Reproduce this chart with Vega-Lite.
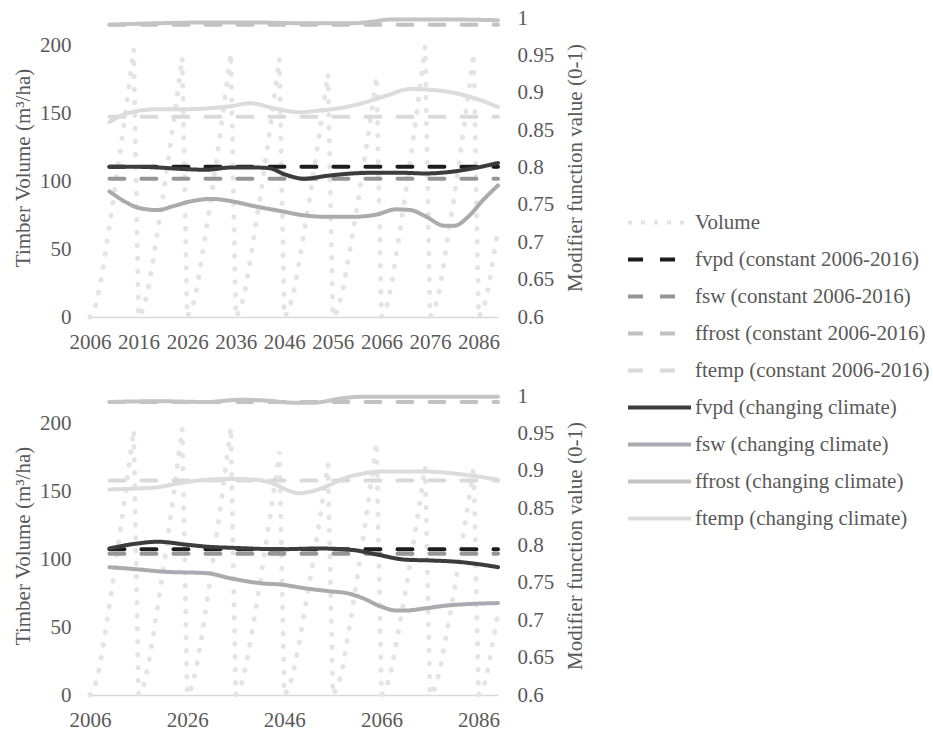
{
  "$schema": "https://vega.github.io/schema/vega-lite/v6.json",
  "background": "white",
  "padding": {"left": 12, "top": 7, "right": 5, "bottom": 5},
  "spacing": 33,
  "datasets": {
    "vol_top": [
      {"year":2006,"vol":0,"series":"Volume"},{"year":2007,"vol":6,"series":"Volume"},{"year":2008,"vol":22,"series":"Volume"},{"year":2009,"vol":43,"series":"Volume"},{"year":2010,"vol":67,"series":"Volume"},{"year":2011,"vol":91,"series":"Volume"},{"year":2012,"vol":116,"series":"Volume"},{"year":2013,"vol":142,"series":"Volume"},{"year":2014,"vol":169,"series":"Volume"},{"year":2015,"vol":197,"series":"Volume"},
      {"year":2016,"vol":0,"series":"Volume"},{"year":2017,"vol":6,"series":"Volume"},{"year":2018,"vol":21,"series":"Volume"},{"year":2019,"vol":42,"series":"Volume"},{"year":2020,"vol":65,"series":"Volume"},{"year":2021,"vol":88,"series":"Volume"},{"year":2022,"vol":113,"series":"Volume"},{"year":2023,"vol":138,"series":"Volume"},{"year":2024,"vol":164,"series":"Volume"},{"year":2025,"vol":191,"series":"Volume"},
      {"year":2026,"vol":0,"series":"Volume"},{"year":2027,"vol":6,"series":"Volume"},{"year":2028,"vol":21,"series":"Volume"},{"year":2029,"vol":43,"series":"Volume"},{"year":2030,"vol":66,"series":"Volume"},{"year":2031,"vol":89,"series":"Volume"},{"year":2032,"vol":114,"series":"Volume"},{"year":2033,"vol":140,"series":"Volume"},{"year":2034,"vol":167,"series":"Volume"},{"year":2035,"vol":194,"series":"Volume"},
      {"year":2036,"vol":0,"series":"Volume"},{"year":2037,"vol":6,"series":"Volume"},{"year":2038,"vol":21,"series":"Volume"},{"year":2039,"vol":42,"series":"Volume"},{"year":2040,"vol":65,"series":"Volume"},{"year":2041,"vol":87,"series":"Volume"},{"year":2042,"vol":112,"series":"Volume"},{"year":2043,"vol":137,"series":"Volume"},{"year":2044,"vol":163,"series":"Volume"},{"year":2045,"vol":190,"series":"Volume"},
      {"year":2046,"vol":0,"series":"Volume"},{"year":2047,"vol":5,"series":"Volume"},{"year":2048,"vol":20,"series":"Volume"},{"year":2049,"vol":39,"series":"Volume"},{"year":2050,"vol":61,"series":"Volume"},{"year":2051,"vol":82,"series":"Volume"},{"year":2052,"vol":106,"series":"Volume"},{"year":2053,"vol":129,"series":"Volume"},{"year":2054,"vol":154,"series":"Volume"},{"year":2055,"vol":179,"series":"Volume"},
      {"year":2056,"vol":0,"series":"Volume"},{"year":2057,"vol":5,"series":"Volume"},{"year":2058,"vol":19,"series":"Volume"},{"year":2059,"vol":39,"series":"Volume"},{"year":2060,"vol":60,"series":"Volume"},{"year":2061,"vol":81,"series":"Volume"},{"year":2062,"vol":104,"series":"Volume"},{"year":2063,"vol":127,"series":"Volume"},{"year":2064,"vol":152,"series":"Volume"},{"year":2065,"vol":177,"series":"Volume"},
      {"year":2066,"vol":0,"series":"Volume"},{"year":2067,"vol":6,"series":"Volume"},{"year":2068,"vol":22,"series":"Volume"},{"year":2069,"vol":44,"series":"Volume"},{"year":2070,"vol":68,"series":"Volume"},{"year":2071,"vol":92,"series":"Volume"},{"year":2072,"vol":117,"series":"Volume"},{"year":2073,"vol":143,"series":"Volume"},{"year":2074,"vol":171,"series":"Volume"},{"year":2075,"vol":199,"series":"Volume"},
      {"year":2076,"vol":0,"series":"Volume"},{"year":2077,"vol":6,"series":"Volume"},{"year":2078,"vol":21,"series":"Volume"},{"year":2079,"vol":43,"series":"Volume"},{"year":2080,"vol":66,"series":"Volume"},{"year":2081,"vol":89,"series":"Volume"},{"year":2082,"vol":114,"series":"Volume"},{"year":2083,"vol":140,"series":"Volume"},{"year":2084,"vol":167,"series":"Volume"},{"year":2085,"vol":194,"series":"Volume"},
      {"year":2086,"vol":0,"series":"Volume"},{"year":2087,"vol":6,"series":"Volume"},{"year":2088,"vol":21,"series":"Volume"},{"year":2089,"vol":42,"series":"Volume"},{"year":2090,"vol":65,"series":"Volume"}
    ],
    "vol_bottom": [
      {"year":2006,"vol":0,"series":"Volume"},{"year":2007,"vol":6,"series":"Volume"},{"year":2008,"vol":21,"series":"Volume"},{"year":2009,"vol":43,"series":"Volume"},{"year":2010,"vol":66,"series":"Volume"},{"year":2011,"vol":90,"series":"Volume"},{"year":2012,"vol":115,"series":"Volume"},{"year":2013,"vol":140,"series":"Volume"},{"year":2014,"vol":168,"series":"Volume"},{"year":2015,"vol":195,"series":"Volume"},
      {"year":2016,"vol":0,"series":"Volume"},{"year":2017,"vol":6,"series":"Volume"},{"year":2018,"vol":22,"series":"Volume"},{"year":2019,"vol":43,"series":"Volume"},{"year":2020,"vol":67,"series":"Volume"},{"year":2021,"vol":90,"series":"Volume"},{"year":2022,"vol":116,"series":"Volume"},{"year":2023,"vol":141,"series":"Volume"},{"year":2024,"vol":169,"series":"Volume"},{"year":2025,"vol":196,"series":"Volume"},
      {"year":2026,"vol":0,"series":"Volume"},{"year":2027,"vol":6,"series":"Volume"},{"year":2028,"vol":22,"series":"Volume"},{"year":2029,"vol":43,"series":"Volume"},{"year":2030,"vol":67,"series":"Volume"},{"year":2031,"vol":91,"series":"Volume"},{"year":2032,"vol":116,"series":"Volume"},{"year":2033,"vol":142,"series":"Volume"},{"year":2034,"vol":169,"series":"Volume"},{"year":2035,"vol":197,"series":"Volume"},
      {"year":2036,"vol":0,"series":"Volume"},{"year":2037,"vol":5,"series":"Volume"},{"year":2038,"vol":20,"series":"Volume"},{"year":2039,"vol":39,"series":"Volume"},{"year":2040,"vol":61,"series":"Volume"},{"year":2041,"vol":82,"series":"Volume"},{"year":2042,"vol":106,"series":"Volume"},{"year":2043,"vol":129,"series":"Volume"},{"year":2044,"vol":154,"series":"Volume"},{"year":2045,"vol":179,"series":"Volume"},
      {"year":2046,"vol":0,"series":"Volume"},{"year":2047,"vol":5,"series":"Volume"},{"year":2048,"vol":19,"series":"Volume"},{"year":2049,"vol":37,"series":"Volume"},{"year":2050,"vol":58,"series":"Volume"},{"year":2051,"vol":78,"series":"Volume"},{"year":2052,"vol":100,"series":"Volume"},{"year":2053,"vol":122,"series":"Volume"},{"year":2054,"vol":146,"series":"Volume"},{"year":2055,"vol":170,"series":"Volume"},
      {"year":2056,"vol":0,"series":"Volume"},{"year":2057,"vol":6,"series":"Volume"},{"year":2058,"vol":20,"series":"Volume"},{"year":2059,"vol":41,"series":"Volume"},{"year":2060,"vol":63,"series":"Volume"},{"year":2061,"vol":86,"series":"Volume"},{"year":2062,"vol":110,"series":"Volume"},{"year":2063,"vol":134,"series":"Volume"},{"year":2064,"vol":160,"series":"Volume"},{"year":2065,"vol":186,"series":"Volume"},
      {"year":2066,"vol":0,"series":"Volume"},{"year":2067,"vol":5,"series":"Volume"},{"year":2068,"vol":18,"series":"Volume"},{"year":2069,"vol":37,"series":"Volume"},{"year":2070,"vol":57,"series":"Volume"},{"year":2071,"vol":77,"series":"Volume"},{"year":2072,"vol":99,"series":"Volume"},{"year":2073,"vol":121,"series":"Volume"},{"year":2074,"vol":144,"series":"Volume"},{"year":2075,"vol":168,"series":"Volume"},
      {"year":2076,"vol":0,"series":"Volume"},{"year":2077,"vol":5,"series":"Volume"},{"year":2078,"vol":18,"series":"Volume"},{"year":2079,"vol":37,"series":"Volume"},{"year":2080,"vol":57,"series":"Volume"},{"year":2081,"vol":77,"series":"Volume"},{"year":2082,"vol":99,"series":"Volume"},{"year":2083,"vol":121,"series":"Volume"},{"year":2084,"vol":144,"series":"Volume"},{"year":2085,"vol":168,"series":"Volume"},
      {"year":2086,"vol":0,"series":"Volume"},{"year":2087,"vol":5,"series":"Volume"},{"year":2088,"vol":20,"series":"Volume"},{"year":2089,"vol":40,"series":"Volume"},{"year":2090,"vol":60,"series":"Volume"}
    ],
    "mod_top": [
      {"series":"fvpd (constant 2006-2016)","year":2010,"value":0.801},{"series":"fvpd (constant 2006-2016)","year":2090,"value":0.801},
      {"series":"fsw (constant 2006-2016)","year":2010,"value":0.785},{"series":"fsw (constant 2006-2016)","year":2090,"value":0.785},
      {"series":"ffrost (constant 2006-2016)","year":2010,"value":0.991},{"series":"ffrost (constant 2006-2016)","year":2090,"value":0.991},
      {"series":"ftemp (constant 2006-2016)","year":2010,"value":0.868},{"series":"ftemp (constant 2006-2016)","year":2090,"value":0.868},
      {"series":"fvpd (changing climate)","year":2010,"value":0.801},{"series":"fvpd (changing climate)","year":2015,"value":0.801},{"series":"fvpd (changing climate)","year":2020,"value":0.8},{"series":"fvpd (changing climate)","year":2025,"value":0.798},{"series":"fvpd (changing climate)","year":2030,"value":0.797},{"series":"fvpd (changing climate)","year":2035,"value":0.8},{"series":"fvpd (changing climate)","year":2040,"value":0.8},{"series":"fvpd (changing climate)","year":2043,"value":0.799},{"series":"fvpd (changing climate)","year":2046,"value":0.791},{"series":"fvpd (changing climate)","year":2050,"value":0.785},{"series":"fvpd (changing climate)","year":2055,"value":0.789},{"series":"fvpd (changing climate)","year":2060,"value":0.792},{"series":"fvpd (changing climate)","year":2065,"value":0.793},{"series":"fvpd (changing climate)","year":2070,"value":0.793},{"series":"fvpd (changing climate)","year":2075,"value":0.792},{"series":"fvpd (changing climate)","year":2080,"value":0.794},{"series":"fvpd (changing climate)","year":2085,"value":0.799},{"series":"fvpd (changing climate)","year":2090,"value":0.806},
      {"series":"fsw (changing climate)","year":2010,"value":0.768},{"series":"fsw (changing climate)","year":2013,"value":0.755},{"series":"fsw (changing climate)","year":2016,"value":0.746},{"series":"fsw (changing climate)","year":2020,"value":0.743},{"series":"fsw (changing climate)","year":2023,"value":0.748},{"series":"fsw (changing climate)","year":2027,"value":0.755},{"series":"fsw (changing climate)","year":2031,"value":0.758},{"series":"fsw (changing climate)","year":2035,"value":0.755},{"series":"fsw (changing climate)","year":2040,"value":0.748},{"series":"fsw (changing climate)","year":2045,"value":0.742},{"series":"fsw (changing climate)","year":2050,"value":0.736},{"series":"fsw (changing climate)","year":2055,"value":0.734},{"series":"fsw (changing climate)","year":2060,"value":0.734},{"series":"fsw (changing climate)","year":2065,"value":0.737},{"series":"fsw (changing climate)","year":2069,"value":0.744},{"series":"fsw (changing climate)","year":2072,"value":0.743},{"series":"fsw (changing climate)","year":2075,"value":0.735},{"series":"fsw (changing climate)","year":2079,"value":0.722},{"series":"fsw (changing climate)","year":2081,"value":0.722},{"series":"fsw (changing climate)","year":2084,"value":0.735},{"series":"fsw (changing climate)","year":2087,"value":0.757},{"series":"fsw (changing climate)","year":2090,"value":0.776},
      {"series":"ffrost (changing climate)","year":2010,"value":0.991},{"series":"ffrost (changing climate)","year":2020,"value":0.993},{"series":"ffrost (changing climate)","year":2030,"value":0.994},{"series":"ffrost (changing climate)","year":2040,"value":0.994},{"series":"ffrost (changing climate)","year":2050,"value":0.993},{"series":"ffrost (changing climate)","year":2060,"value":0.993},{"series":"ffrost (changing climate)","year":2064,"value":0.995},{"series":"ffrost (changing climate)","year":2068,"value":0.998},{"series":"ffrost (changing climate)","year":2080,"value":0.998},{"series":"ffrost (changing climate)","year":2090,"value":0.997},
      {"series":"ftemp (changing climate)","year":2010,"value":0.861},{"series":"ftemp (changing climate)","year":2014,"value":0.873},{"series":"ftemp (changing climate)","year":2020,"value":0.878},{"series":"ftemp (changing climate)","year":2025,"value":0.878},{"series":"ftemp (changing climate)","year":2030,"value":0.879},{"series":"ftemp (changing climate)","year":2035,"value":0.882},{"series":"ftemp (changing climate)","year":2039,"value":0.886},{"series":"ftemp (changing climate)","year":2044,"value":0.879},{"series":"ftemp (changing climate)","year":2049,"value":0.874},{"series":"ftemp (changing climate)","year":2053,"value":0.876},{"series":"ftemp (changing climate)","year":2058,"value":0.88},{"series":"ftemp (changing climate)","year":2062,"value":0.886},{"series":"ftemp (changing climate)","year":2067,"value":0.896},{"series":"ftemp (changing climate)","year":2072,"value":0.905},{"series":"ftemp (changing climate)","year":2076,"value":0.904},{"series":"ftemp (changing climate)","year":2080,"value":0.901},{"series":"ftemp (changing climate)","year":2085,"value":0.893},{"series":"ftemp (changing climate)","year":2090,"value":0.881}
    ],
    "mod_bottom": [
      {"series":"fvpd (constant 2006-2016)","year":2010,"value":0.795},{"series":"fvpd (constant 2006-2016)","year":2090,"value":0.795},
      {"series":"fsw (constant 2006-2016)","year":2010,"value":0.789},{"series":"fsw (constant 2006-2016)","year":2090,"value":0.789},
      {"series":"ffrost (constant 2006-2016)","year":2010,"value":0.992},{"series":"ffrost (constant 2006-2016)","year":2090,"value":0.992},
      {"series":"ftemp (constant 2006-2016)","year":2010,"value":0.887},{"series":"ftemp (constant 2006-2016)","year":2090,"value":0.887},
      {"series":"fvpd (changing climate)","year":2010,"value":0.796},{"series":"fvpd (changing climate)","year":2015,"value":0.802},{"series":"fvpd (changing climate)","year":2020,"value":0.805},{"series":"fvpd (changing climate)","year":2026,"value":0.801},{"series":"fvpd (changing climate)","year":2031,"value":0.798},{"series":"fvpd (changing climate)","year":2035,"value":0.797},{"series":"fvpd (changing climate)","year":2045,"value":0.795},{"series":"fvpd (changing climate)","year":2053,"value":0.796},{"series":"fvpd (changing climate)","year":2060,"value":0.794},{"series":"fvpd (changing climate)","year":2065,"value":0.788},{"series":"fvpd (changing climate)","year":2071,"value":0.781},{"series":"fvpd (changing climate)","year":2076,"value":0.78},{"series":"fvpd (changing climate)","year":2082,"value":0.778},{"series":"fvpd (changing climate)","year":2086,"value":0.775},{"series":"fvpd (changing climate)","year":2090,"value":0.771},
      {"series":"fsw (changing climate)","year":2010,"value":0.771},{"series":"fsw (changing climate)","year":2016,"value":0.768},{"series":"fsw (changing climate)","year":2021,"value":0.765},{"series":"fsw (changing climate)","year":2030,"value":0.763},{"series":"fsw (changing climate)","year":2035,"value":0.756},{"series":"fsw (changing climate)","year":2042,"value":0.749},{"series":"fsw (changing climate)","year":2045,"value":0.748},{"series":"fsw (changing climate)","year":2050,"value":0.743},{"series":"fsw (changing climate)","year":2055,"value":0.739},{"series":"fsw (changing climate)","year":2059,"value":0.736},{"series":"fsw (changing climate)","year":2062,"value":0.73},{"series":"fsw (changing climate)","year":2066,"value":0.718},{"series":"fsw (changing climate)","year":2069,"value":0.713},{"series":"fsw (changing climate)","year":2071,"value":0.713},{"series":"fsw (changing climate)","year":2075,"value":0.716},{"series":"fsw (changing climate)","year":2080,"value":0.72},{"series":"fsw (changing climate)","year":2085,"value":0.722},{"series":"fsw (changing climate)","year":2090,"value":0.723},
      {"series":"ffrost (changing climate)","year":2010,"value":0.992},{"series":"ffrost (changing climate)","year":2020,"value":0.993},{"series":"ffrost (changing climate)","year":2030,"value":0.992},{"series":"ffrost (changing climate)","year":2037,"value":0.995},{"series":"ffrost (changing climate)","year":2042,"value":0.994},{"series":"ffrost (changing climate)","year":2048,"value":0.991},{"series":"ffrost (changing climate)","year":2052,"value":0.991},{"series":"ffrost (changing climate)","year":2058,"value":0.997},{"series":"ffrost (changing climate)","year":2062,"value":0.999},{"series":"ffrost (changing climate)","year":2090,"value":0.999},
      {"series":"ftemp (changing climate)","year":2010,"value":0.875},{"series":"ftemp (changing climate)","year":2015,"value":0.876},{"series":"ftemp (changing climate)","year":2020,"value":0.878},{"series":"ftemp (changing climate)","year":2025,"value":0.884},{"series":"ftemp (changing climate)","year":2030,"value":0.888},{"series":"ftemp (changing climate)","year":2035,"value":0.889},{"series":"ftemp (changing climate)","year":2040,"value":0.888},{"series":"ftemp (changing climate)","year":2044,"value":0.882},{"series":"ftemp (changing climate)","year":2047,"value":0.873},{"series":"ftemp (changing climate)","year":2049,"value":0.87},{"series":"ftemp (changing climate)","year":2052,"value":0.873},{"series":"ftemp (changing climate)","year":2055,"value":0.88},{"series":"ftemp (changing climate)","year":2058,"value":0.889},{"series":"ftemp (changing climate)","year":2062,"value":0.896},{"series":"ftemp (changing climate)","year":2066,"value":0.899},{"series":"ftemp (changing climate)","year":2075,"value":0.899},{"series":"ftemp (changing climate)","year":2080,"value":0.897},{"series":"ftemp (changing climate)","year":2085,"value":0.893},{"series":"ftemp (changing climate)","year":2090,"value":0.888}
    ]
  },
  "vconcat": [
    {
      "width": 408, "height": 299,
      "layer": [
        {
          "data": {"name": "vol_top"},
          "mark": {"type": "line", "strokeCap": "round", "strokeWidth": 5, "strokeDash": [0.5, 12.5]},
          "encoding": {
            "x": {"field": "year", "type": "quantitative", "scale": {"domain": [2006, 2090], "nice": false, "zero": false}, "axis": {"values": [2006,2016,2026,2036,2046,2056,2066,2076,2086], "format": "d", "title": null, "domain": true}},
            "y": {"field": "vol", "type": "quantitative", "scale": {"domain": [0, 220], "nice": false}, "axis": {"orient": "left", "values": [0,50,100,150,200], "title": "Timber Volume (m³/ha)"}},
            "color": {"field": "series", "type": "nominal", "scale": {"domain": ["Volume","fvpd (constant 2006-2016)","fsw (constant 2006-2016)","ffrost (constant 2006-2016)","ftemp (constant 2006-2016)","fvpd (changing climate)","fsw (changing climate)","ffrost (changing climate)","ftemp (changing climate)"], "range": ["#e4e4e4","#1c1c1c","#969696","#c2c2c2","#dadada","#3c3c3c","#ababaf","#c4c4c4","#dcdcdc"]}, "legend": {"title": null}}
          }
        },
        {
          "data": {"name": "mod_top"},
          "mark": {"type": "line", "strokeCap": "round", "strokeWidth": 4, "interpolate": "monotone"},
          "encoding": {
            "x": {"field": "year", "type": "quantitative"},
            "y": {"field": "value", "type": "quantitative", "scale": {"domain": [0.6, 1], "nice": false, "zero": false}, "axis": {"orient": "right", "values": [0.6,0.65,0.7,0.75,0.8,0.85,0.9,0.95,1], "format": "~g", "title": "Modifier function value (0-1)", "titleAngle": 270, "titleBaseline": "top"}},
            "color": {"field": "series", "type": "nominal", "legend": {"title": null}},
            "strokeDash": {"field": "series", "type": "nominal", "scale": {"domain": ["Volume","fvpd (constant 2006-2016)","fsw (constant 2006-2016)","ffrost (constant 2006-2016)","ftemp (constant 2006-2016)","fvpd (changing climate)","fsw (changing climate)","ffrost (changing climate)","ftemp (changing climate)"], "range": [[4,9],[15,17],[15,17],[15,17],[15,17],[1,0],[1,0],[1,0],[1,0]]}, "legend": {"title": null}}
          }
        }
      ],
      "resolve": {"scale": {"y": "independent"}}
    },
    {
      "width": 408, "height": 299,
      "layer": [
        {
          "data": {"name": "vol_bottom"},
          "mark": {"type": "line", "strokeCap": "round", "strokeWidth": 5, "strokeDash": [0.5, 12.5]},
          "encoding": {
            "x": {"field": "year", "type": "quantitative", "scale": {"domain": [2006, 2090], "nice": false, "zero": false}, "axis": {"values": [2006,2026,2046,2066,2086], "format": "d", "title": null, "domain": true}},
            "y": {"field": "vol", "type": "quantitative", "scale": {"domain": [0, 220], "nice": false}, "axis": {"orient": "left", "values": [0,50,100,150,200], "title": "Timber Volume (m³/ha)"}},
            "color": {"field": "series", "type": "nominal", "legend": {"title": null}}
          }
        },
        {
          "data": {"name": "mod_bottom"},
          "mark": {"type": "line", "strokeCap": "round", "strokeWidth": 4, "interpolate": "monotone"},
          "encoding": {
            "x": {"field": "year", "type": "quantitative"},
            "y": {"field": "value", "type": "quantitative", "scale": {"domain": [0.6, 1], "nice": false, "zero": false}, "axis": {"orient": "right", "values": [0.6,0.65,0.7,0.75,0.8,0.85,0.9,0.95,1], "format": "~g", "title": "Modifier function value (0-1)", "titleAngle": 270, "titleBaseline": "top"}},
            "color": {"field": "series", "type": "nominal", "legend": {"title": null}},
            "strokeDash": {"field": "series", "type": "nominal", "legend": {"title": null}}
          }
        }
      ],
      "resolve": {"scale": {"y": "independent"}}
    }
  ],
  "config": {
    "font": "Liberation Serif, Times New Roman, serif",
    "view": {"stroke": null},
    "axis": {
      "labelFont": "Liberation Serif, Times New Roman, serif", "labelFontSize": 21, "labelColor": "#595959",
      "titleFont": "Liberation Serif, Times New Roman, serif", "titleFontSize": 21, "titleColor": "#595959", "titleFontWeight": "normal",
      "grid": false, "ticks": false, "domain": false, "labelPadding": 19, "titlePadding": 6
    },
    "axisX": {"domain": true, "domainColor": "#d9d9d9", "domainWidth": 1.5, "labelPadding": 14, "labelFlush": false},
    "axisRight": {"titlePadding": 11},
    "legend": {
      "orient": "none", "legendX": 536, "legendY": 186,
      "labelFont": "Liberation Serif, Times New Roman, serif", "labelFontSize": 21, "labelColor": "#595959", "labelLimit": 400,
      "symbolSize": 3969, "symbolStrokeWidth": 4, "rowPadding": 0, "clipHeight": 37, "labelOffset": 2, "padding": 0
    }
  }
}
